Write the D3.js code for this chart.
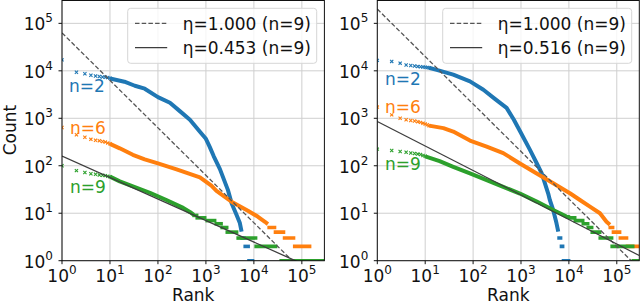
<!DOCTYPE html>
<html>
<head>
<meta charset="utf-8">
<script src="https://cdn.jsdelivr.net/npm/d3@7"></script>
<style>
  body { margin: 0; background: #fff; }
  svg { display: block; font-family: "DejaVu Sans", sans-serif; }
</style>
</head>
<body>
<svg width="640" height="305"></svg>
<script>
// axis limits (log10 units) and decade ticks
var rankMax = Math.pow(10, 5.47);
var countMax = Math.pow(10, 5.492);
var tickExps = [0, 1, 2, 3, 4, 5];
var seriesNames = ['n=2', 'n=6', 'n=9'];

// ---- left panel: counts for the first ranks (rank 1,2,3,...), dense body [rank, count], tail steps [count, rankFrom, rankTo]
var leftHead2 = [17000, 9300, 8700, 8100, 7800, 7600, 7400, 7300, 7200, 7000];
var leftBody2 = [[10,6900],[20,5900],[33,4850],[53,4200],[100,2800],[178,2130],[290,1400],[464,930],[750,520],[1000,370],[1200,250],[1450,160],[1960,85],[2870,31],[3430,16.3],[4360,9.2],[5100,6.2],[5540,4.1]];
var leftSteps2 = [[3,5600,6300],[2,6500,7700],[1,7800,9500]];

var leftHead6 = [640, 450, 400, 360, 345, 335, 325, 315, 300, 290];
var leftBody6 = [[10,290],[16,233],[30,170],[53,136],[100,112],[245,84],[750,57],[1300,38],[1660,29.5],[3650,16.8],[7500,11.3],[12000,8.5],[17000,6.6],[19600,5.9]];
var leftSteps6 = [[5,20500,27300],[4,27800,42000],[3,43000,68000],[2,70000,147000]];

var leftHead9 = [100, 79, 72, 68, 66, 64, 63, 62, 60, 59];
var leftBody9 = [[10,59],[16,47],[30,37],[68,27],[150,19],[336,13],[470,10.5],[560,9.2]];
var leftSteps9 = [[9,560,650],[8,650,955],[7,1050,1540],[6,1620,2100],[5,2150,2750],[4,2750,4420],[3,4640,11000],[2,11000,28700],[1,36600,300000]];

var leftLegend = ['η=1.000 (n=9)', 'η=0.453 (n=9)'];
var leftEta = [1.000, 0.453];
var leftIntercept = [63000, 160];   // count at rank 1 of each fitted line

// ---- right panel
var rightHead2 = [16600, 15800, 14500, 13300, 12900, 12600, 12400, 12200, 12000, 11900, 11700, 11600];
var rightBody2 = [[12,11600],[17.4,10500],[38.5,8300],[86,6000],[164,4000],[285,2570],[500,1660],[710,930],[1000,490],[1540,216],[2130,113],[2700,70],[3150,43],[3700,26],[4000,19],[4700,11.7],[5500,6.2],[6000,4.1]];
var rightSteps2 = [[3,6150,6800],[2,6900,7500],[1,7600,10000]];

var rightHead6 = [1720, 1180, 1000, 930, 900, 880, 850, 820, 790, 760, 730, 700];
var rightBody6 = [[12,700],[24,620],[38.5,525],[86,340],[192,254],[426,185],[950,112],[2130,69],[4700,43],[10700,26],[17000,19],[27500,13.8],[44500,10],[61000,6.6],[72000,5.7]];
var rightSteps6 = [[5,72000,83000],[4,84000,116000],[3,117000,162000],[2,165000,300000]];

var rightHead9 = [224, 210, 200, 192, 186, 181, 176, 172, 165, 158];
var rightBody9 = [[10,158],[20,125],[38.5,95],[86,69],[192,50],[426,36],[950,26],[2130,17.6],[4700,11.7],[6500,10],[8900,8.5],[10500,8.2]];
var rightSteps9 = [[8,10500,13400],[7,13400,19700],[6,19700,25000],[5,25000,30300],[4,30300,44500],[3,44500,79000],[2,79000,218000],[1,218000,300000]];

var rightLegend = ['η=1.000 (n=9)', 'η=0.516 (n=9)'];
var rightEta = [1.000, 0.516];
var rightIntercept = [200000, 855];

// colors (matplotlib tab10)
var colors = ['#1f77b4', '#ff7f0e', '#2ca02c'];

var panels = [
    { x0: 62, w: 262.4, heads: [leftHead2, leftHead6, leftHead9], bodies: [leftBody2, leftBody6, leftBody9],
      steps: [leftSteps2, leftSteps6, leftSteps9], legend: leftLegend, eta: leftEta, c0: leftIntercept,
      labelPos: [[69, 92], [70, 133.5], [70, 193.3]], legendX: 127.7, yLabel: true },
    { x0: 377.3, w: 262, heads: [rightHead2, rightHead6, rightHead9], bodies: [rightBody2, rightBody6, rightBody9],
      steps: [rightSteps2, rightSteps6, rightSteps9], legend: rightLegend, eta: rightEta, c0: rightIntercept,
      labelPos: [[385, 85], [385, 113.3], [385, 170]], legendX: 442.7, yLabel: false }
];

var svg = d3.select('svg');
var plotTop = 0, plotBottom = 260.7;

panels.forEach(function(p, pi) {
    var x = d3.scaleLog().domain([1, rankMax]).range([p.x0, p.x0 + p.w]);
    var y = d3.scaleLog().domain([1, countMax]).range([plotBottom, plotTop]);

    var clipId = 'clip' + pi;
    svg.append('defs').append('clipPath').attr('id', clipId)
        .append('rect')
        .attr('x', p.x0).attr('y', plotTop)
        .attr('width', p.w).attr('height', plotBottom - plotTop);

    // grid
    var grid = svg.append('g');
    tickExps.forEach(function(e) {
        var v = Math.pow(10, e);
        grid.append('line')
            .attr('x1', x(v)).attr('x2', x(v)).attr('y1', plotTop).attr('y2', plotBottom)
            .attr('stroke', '#cfcfcf').attr('stroke-width', 1);
        grid.append('line')
            .attr('x1', p.x0).attr('x2', p.x0 + p.w).attr('y1', y(v)).attr('y2', y(v))
            .attr('stroke', '#cfcfcf').attr('stroke-width', 1);
    });

    var plot = svg.append('g').attr('clip-path', 'url(#' + clipId + ')');

    // series: x markers at first ranks, dense body, and tail steps
    var line = d3.line().x(function(d) { return x(d[0]); }).y(function(d) { return y(d[1]); });
    p.bodies.forEach(function(body, si) {
        var col = colors[si];
        var g = plot.append('g');
        g.selectAll('path.mk')
            .data(p.heads[si])
            .enter().append('path')
            .attr('class', 'mk')
            .attr('transform', function(d, i) { return 'translate(' + x(i + 1) + ',' + y(d) + ')'; })
            .attr('d', 'M-1.6,-1.6L1.6,1.6M-1.6,1.6L1.6,-1.6')
            .attr('stroke', col).attr('stroke-width', 1.1).attr('fill', 'none');
        g.append('path')
            .datum(body)
            .attr('d', line)
            .attr('fill', 'none').attr('stroke', col)
            .attr('stroke-width', 4).attr('stroke-linejoin', 'round');
        g.selectAll('line.step')
            .data(p.steps[si])
            .enter().append('line')
            .attr('class', 'step')
            .attr('x1', function(d) { return x(d[1]) - 1.5; })
            .attr('x2', function(d) { return x(d[2]) + 1.5; })
            .attr('y1', function(d) { return y(d[0]); })
            .attr('y2', function(d) { return y(d[0]); })
            .attr('stroke', col).attr('stroke-width', 3.6);
    });

    // reference (eta=1) and fitted power laws
    var dashes = ['4.5,2.2', null];
    var lineCols = ['#555555', '#3d3d3d'];
    p.eta.forEach(function(eta, k) {
        var pts = [[1, p.c0[k]], [rankMax, p.c0[k] * Math.pow(rankMax, -eta)]];
        plot.append('path')
            .datum(pts)
            .attr('d', line)
            .attr('fill', 'none').attr('stroke', lineCols[k])
            .attr('stroke-width', 1.3)
            .attr('stroke-dasharray', dashes[k]);
    });

    // series labels
    p.labelPos.forEach(function(pos, si) {
        svg.append('text')
            .attr('x', pos[0]).attr('y', pos[1])
            .attr('fill', colors[si]).style('font-size', '17px')
            .text(seriesNames[si]);
    });

    // legend
    var lg = svg.append('g').attr('transform', 'translate(' + p.legendX + ',8.3)');
    lg.append('rect')
        .attr('width', 189).attr('height', 55).attr('rx', 3)
        .attr('fill', 'white').attr('fill-opacity', 0.8)
        .attr('stroke', '#d6d6d6').attr('stroke-width', 1);
    p.legend.forEach(function(t, k) {
        var ly = 15 + k * 24.4;
        lg.append('line')
            .attr('x1', 7.3).attr('x2', 39.5).attr('y1', ly).attr('y2', ly)
            .attr('stroke', lineCols[k]).attr('stroke-width', 1.3)
            .attr('stroke-dasharray', dashes[k]);
        lg.append('text')
            .attr('x', 55).attr('y', ly + 6.3)
            .style('font-size', '17px').attr('fill', '#111')
            .text(t);
    });

    // spines
    svg.append('rect')
        .attr('x', p.x0).attr('y', plotTop + 0.5)
        .attr('width', p.w).attr('height', plotBottom - plotTop - 0.5)
        .attr('fill', 'none').attr('stroke', '#111').attr('stroke-width', 1);

    // ticks and labels
    tickExps.forEach(function(e) {
        var v = Math.pow(10, e);
        svg.append('line')
            .attr('x1', x(v)).attr('x2', x(v)).attr('y1', plotBottom).attr('y2', plotBottom + 3.5)
            .attr('stroke', '#111').attr('stroke-width', 1);
        svg.append('line')
            .attr('x1', p.x0 - 3.5).attr('x2', p.x0).attr('y1', y(v)).attr('y2', y(v))
            .attr('stroke', '#111').attr('stroke-width', 1);

        var tx = svg.append('text')
            .attr('x', x(v)).attr('y', 281.5)
            .attr('text-anchor', 'middle').style('font-size', '17px').attr('fill', '#111');
        tx.append('tspan').text('10');
        tx.append('tspan').attr('dy', -8).style('font-size', '12px').text(e);

        var ty = svg.append('text')
            .attr('x', p.x0 - 9).attr('y', y(v) + 7)
            .attr('text-anchor', 'end').style('font-size', '17px').attr('fill', '#111');
        ty.append('tspan').text('10');
        ty.append('tspan').attr('dy', -8).style('font-size', '12px').text(e);
    });

    svg.append('text')
        .attr('x', p.x0 + p.w / 2).attr('y', 301)
        .attr('text-anchor', 'middle').style('font-size', '17px').attr('fill', '#111')
        .text('Rank');

    if (p.yLabel) {
        svg.append('text')
            .attr('transform', 'translate(15.5,130) rotate(-90)')
            .attr('text-anchor', 'middle').style('font-size', '17px').attr('fill', '#111')
            .text('Count');
    }
});
</script>
</body>
</html>
